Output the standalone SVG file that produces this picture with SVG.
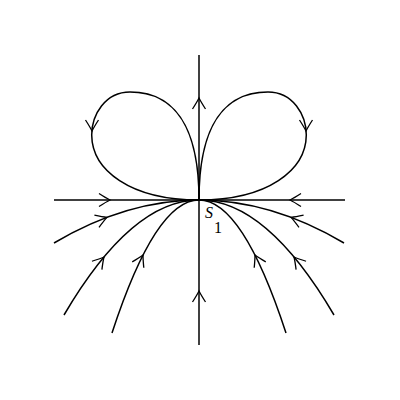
<svg xmlns="http://www.w3.org/2000/svg" width="400" height="400" viewBox="0 0 400 400">
<style>
.ln{fill:none;stroke:#000;stroke-width:1.5}
.ar{fill:none;stroke:#000;stroke-width:1.3}
.lb{font-family:"Liberation Serif",serif;font-size:16px;fill:#000}
</style>
<defs>
<path id="chev" class="ar" d="M-11,-6.5 Q-4,-2 0,0 Q-4,2 -11,6.5"/>
</defs>
<rect width="400" height="400" fill="#fff"/>
<g id="connectors">
<line class="ln" x1="54" y1="200" x2="345" y2="200"/>
<line class="ln" x1="199" y1="55" x2="199" y2="345"/>
<path class="ln" d="M199,200 C199,145 185,92 130,92 C105,92 91.7,115 91.7,135 C92,170 130,200 199,200"/>
<path class="ln" d="M199,200 C199,145 213,92 268,92 C293,92 306.3,115 306.3,135 C306,170 268,200 199,200"/>
<path class="ln" d="M54,243 Q126.5,200 199,200"/>
<path class="ln" d="M64,315 Q131.5,200 199,200"/>
<path class="ln" d="M112,333 Q155.5,200 199,200"/>
<path class="ln" d="M344,243 Q271.5,200 199,200"/>
<path class="ln" d="M334,315 Q266.5,200 199,200"/>
<path class="ln" d="M286,333 Q242.5,200 199,200"/>
<use href="#chev" transform="translate(110,200)"/>
<use href="#chev" transform="translate(290,200) rotate(180)"/>
<use href="#chev" transform="translate(199,98) rotate(-90)"/>
<use href="#chev" transform="translate(199,291) rotate(-90)"/>
<use href="#chev" transform="translate(92,131) rotate(90)"/>
<use href="#chev" transform="translate(306,131) rotate(90)"/>
<use href="#chev" transform="translate(107,217.4) rotate(-20.7)"/>
<use href="#chev" transform="translate(104,257) rotate(-50)"/>
<use href="#chev" transform="translate(143,255) rotate(-63)"/>
<use href="#chev" transform="translate(291,217.4) rotate(200.7)"/>
<use href="#chev" transform="translate(294,257) rotate(230)"/>
<use href="#chev" transform="translate(255,255) rotate(243)"/>
</g>
<g id="s1">
<text class="lb" x="205" y="218" font-style="italic">S</text>
<text class="lb" x="214" y="233">1</text>
</g>
</svg>
